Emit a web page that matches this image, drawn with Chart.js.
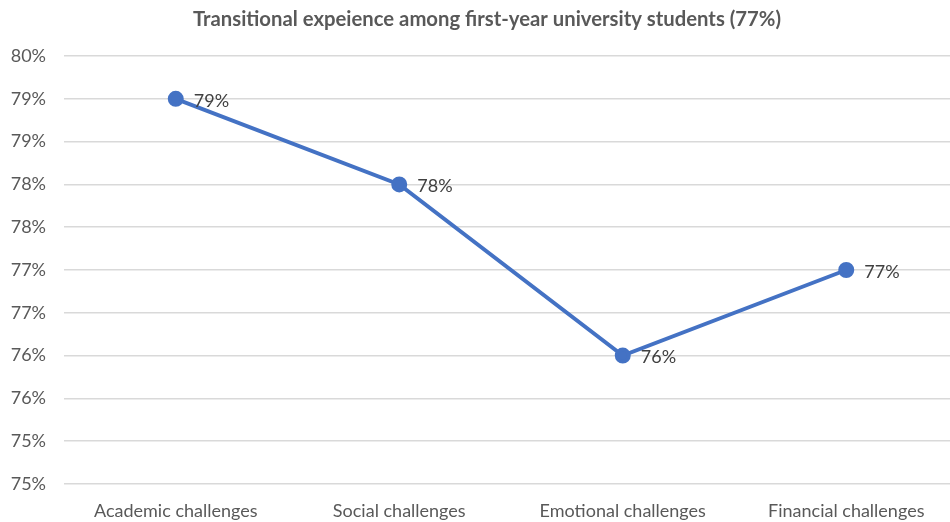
<!DOCTYPE html>
<html><head><meta charset="utf-8">
<script src="https://cdn.jsdelivr.net/npm/chart.js@4/dist/chart.umd.min.js"></script>
<style>html,body{margin:0;padding:0;overflow:hidden;background:#fff}#wrap{width:974px;height:522px;position:relative}</style>
</head><body><div id="wrap"><canvas id="c"></canvas></div>
<script>
const categories = ['Academic challenges','Social challenges','Emotional challenges','Financial challenges'];
const values = [79.5, 78.5, 76.5, 77.5];
const valueLabels = ['79%','78%','76%','77%'];
const tickValues = [75, 75.5, 76, 76.5, 77, 77.5, 78, 78.5, 79, 79.5, 80];
const tickLabels = ['75%','75%','76%','76%','77%','77%','78%','78%','79%','79%','80%'];
const titleText = 'Transitional expeience among first-year university students (77%)';

const FONT = 'Lato, "Open Sans", sans-serif';
const dataLabelPlugin = {
  id: 'dl',
  afterDatasetsDraw(chart) {
    const ctx = chart.ctx;
    const meta = chart.getDatasetMeta(0);
    ctx.save();
    ctx.font = '18px ' + FONT;
    ctx.fillStyle = '#404040';
    ctx.textAlign = 'left';
    ctx.textBaseline = 'middle';
    meta.data.forEach((p, i) => ctx.fillText(valueLabels[i], p.x + 18, p.y + 2));
    ctx.restore();
  }
};
const titlePlugin = {
  id: 'ttl',
  afterDraw(chart) {
    const ctx = chart.ctx;
    ctx.save();
    ctx.font = 'bold 20.3px ' + FONT;
    ctx.fillStyle = '#595959';
    ctx.textAlign = 'center';
    ctx.textBaseline = 'middle';
    ctx.fillText(titleText, 487, 19);
    ctx.restore();
  }
};

new Chart(document.getElementById('c'), {
  type: 'line',
  data: { labels: categories, datasets: [{
    data: values, borderColor: '#4472C4', backgroundColor: '#4472C4',
    borderWidth: 4, pointRadius: 6, pointHoverRadius: 6, tension: 0
  }]},
  options: {
    responsive: true, maintainAspectRatio: false, animation: false,
    layout: { padding: { left: 0, right: 16, top: 56, bottom: 0 } },
    plugins: {
      legend: { display: false }, tooltip: { enabled: false }, title: { display: false }
    },
    scales: {
      x: { offset: true, grid: { display: false }, border: { display: false },
        afterFit(s) { s.height = 38; },
        ticks: { color: '#595959', font: { family: FONT, size: 18 }, padding: 8, maxRotation: 0, autoSkip: false } },
      y: { min: 75, max: 80, afterBuildTicks(s) { s.ticks = tickValues.map(v => ({ value: v })); },
        afterFit(s) { s.width = 64; },
        grid: { color: '#D9D9D9', lineWidth: 1.5, drawTicks: false }, border: { display: false },
        ticks: { color: '#595959', font: { family: FONT, size: 18 }, padding: 18,
          callback: (v) => tickLabels[tickValues.indexOf(v)] } }
    }
  },
  plugins: [dataLabelPlugin, titlePlugin]
});
</script></body></html>
